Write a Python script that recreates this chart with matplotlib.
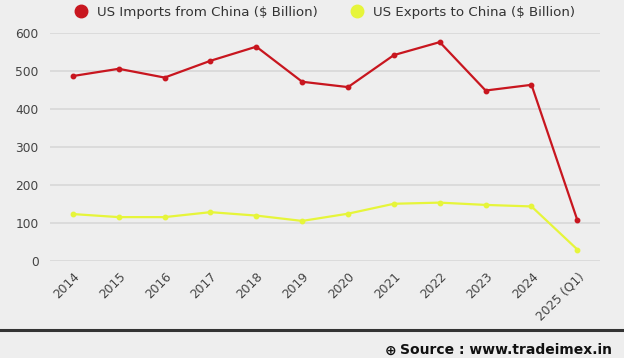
import numpy as np
import matplotlib.pyplot as plt
from matplotlib.lines import Line2D

# data
years = ["2014", "2015", "2016", "2017", "2018", "2019", "2020",
         "2021", "2022", "2023", "2024", "2025 (Q1)"]
imports = [486, 505, 482, 526, 563, 471, 457, 541, 575, 448, 463, 108]
exports = [124, 116, 116, 129, 120, 106, 125, 151, 154, 148, 144, 31]
yticks = [0, 100, 200, 300, 400, 500, 600]

bg = "#eeeeee"
red = "#c8161f"
yellow = "#e6f53a"

plt.rcParams["font.family"] = ["DejaVu Sans"]

fig = plt.figure(figsize=(6.24, 3.58), dpi=100, facecolor=bg)
ax = fig.add_axes([0.080, 0.270, 0.882, 0.639], facecolor=bg)

x = np.arange(len(years))
ax.plot(x, imports, color=red, lw=1.6, marker="o", ms=3.2, clip_on=False, zorder=3)
ax.plot(x, exports, color=yellow, lw=1.6, marker="o", ms=3.2, clip_on=False, zorder=3)

ax.set_xlim(-0.5, len(years) - 0.5)
ax.set_ylim(0, 600)
ax.set_yticks(yticks)
ax.set_xticks(x)
ax.set_xticklabels(years, rotation=45, ha="right", va="top", rotation_mode="anchor")
ax.tick_params(axis="both", length=0, labelsize=8.8, labelcolor="#444444")
ax.tick_params(axis="y", pad=8)
ax.tick_params(axis="x", pad=6)
ax.grid(axis="y", color="#d8d8d8", lw=1.2)
ax.set_axisbelow(True)
for s in ax.spines.values():
    s.set_visible(False)

# legend at top
handles = [Line2D([], [], ls="none", marker="o", ms=9, color=red),
           Line2D([], [], ls="none", marker="o", ms=9, color=yellow)]
fig.legend(handles, ["US Imports from China ($ Billion)", "US Exports to China ($ Billion)"],
           loc="center", bbox_to_anchor=(0.515, 0.965), ncol=2, frameon=False,
           fontsize=9.6, handletextpad=0.2, columnspacing=2.0, labelcolor="#333333")

# separator line and source
fig.add_artist(Line2D([0, 1], [1 - 330 / 358, 1 - 330 / 358], color="#333333", lw=2.2,
                      transform=fig.transFigure))
src = fig.text(612 / 624, 3.5 / 358, "Source : www.tradeimex.in", ha="right", va="baseline",
               fontsize=10, fontweight="bold", color="#111111")
fig.canvas.draw()
bb = src.get_window_extent()
fig.text((bb.x0 - 4) / 624, 3.5 / 358, "\u2295", ha="right", va="baseline", fontsize=10,
         fontweight="bold", color="#111111")

fig.savefig("out.png", dpi=100, facecolor=bg)
